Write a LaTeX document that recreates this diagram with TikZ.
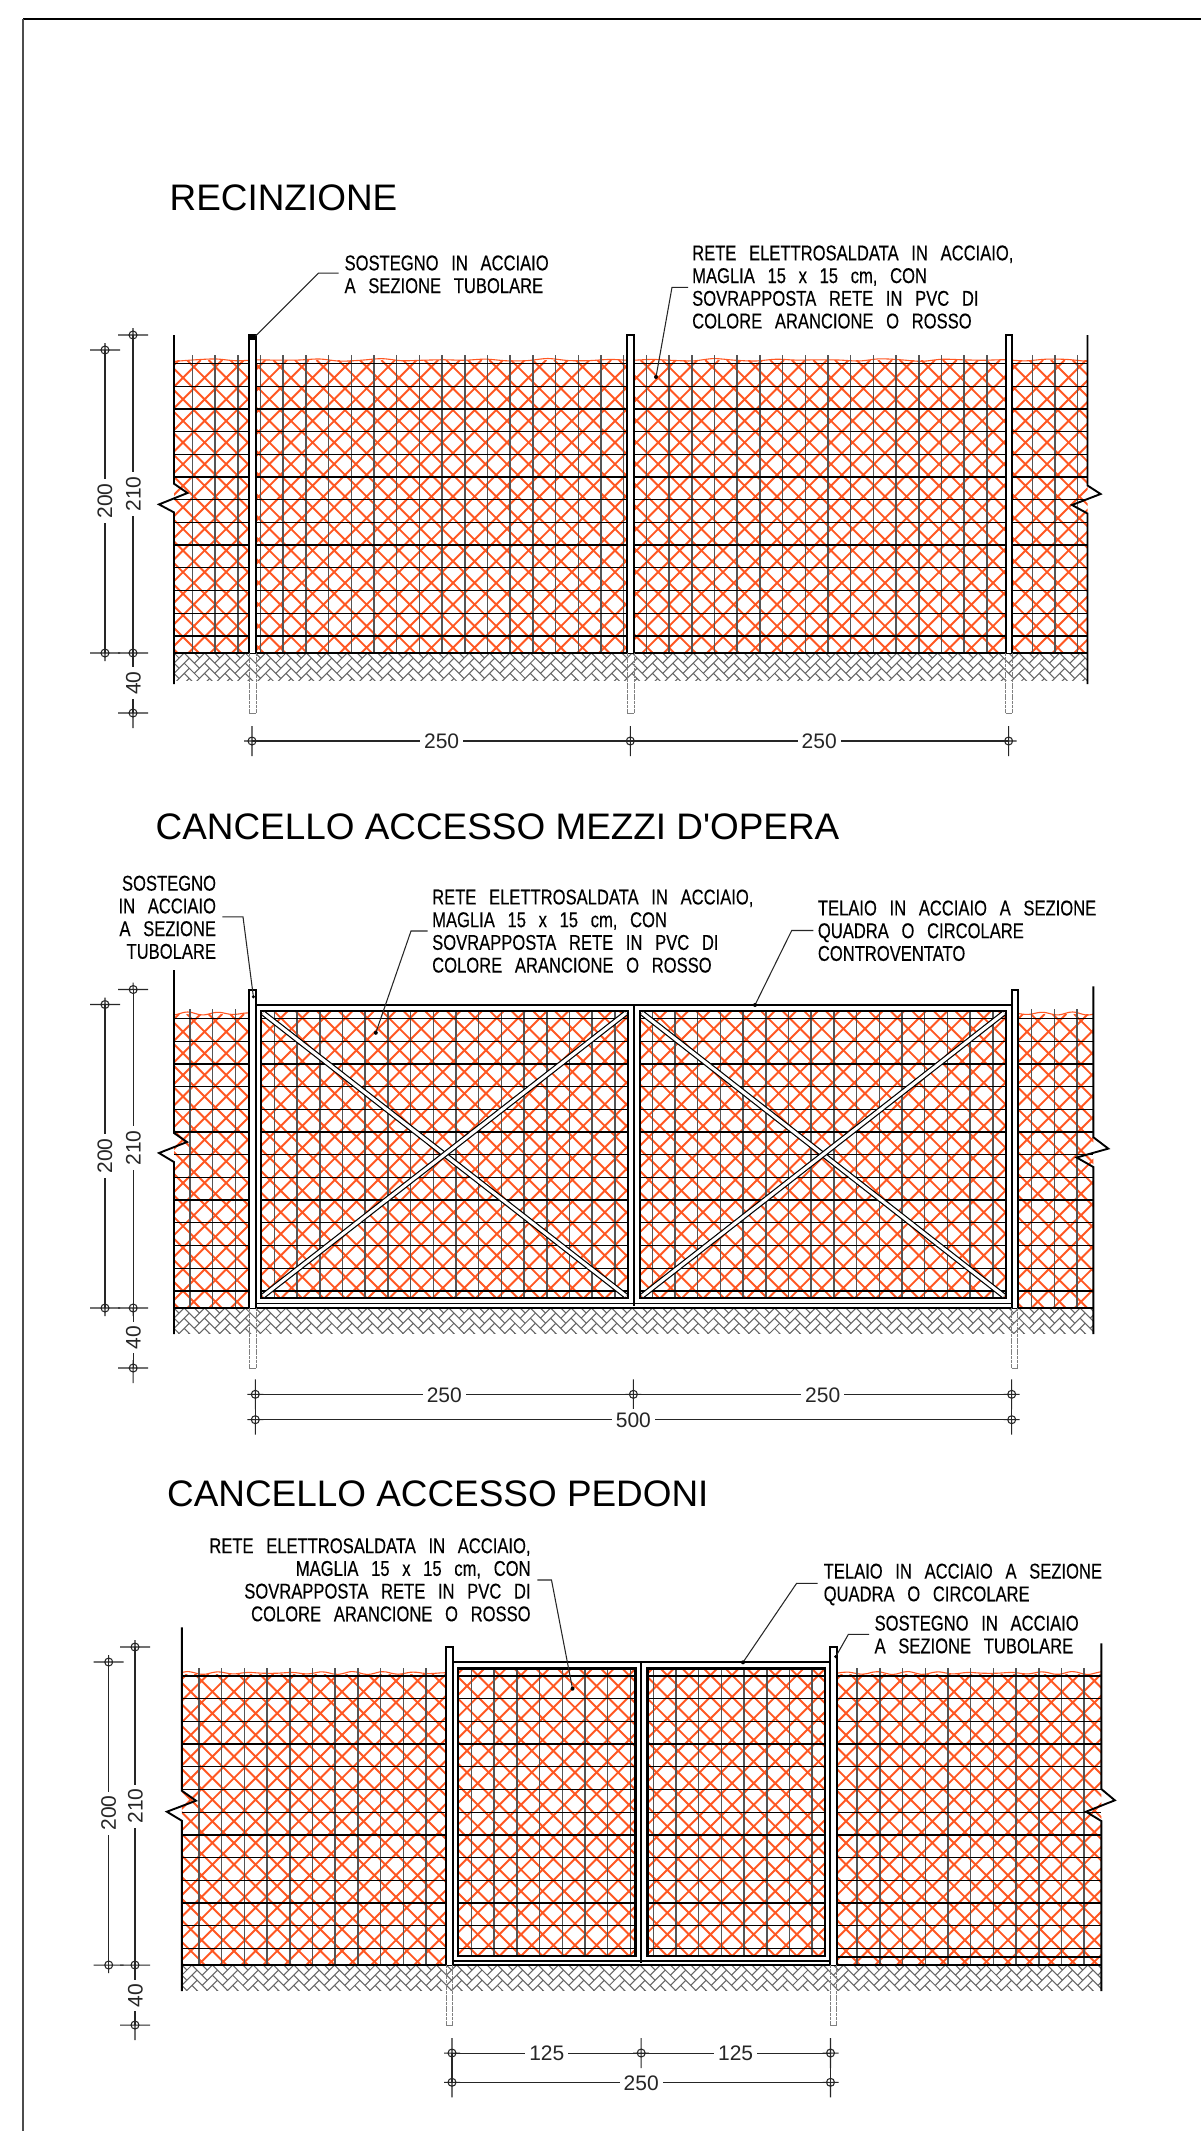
\documentclass[tikz,border=0pt]{standalone}
\usepackage{fontspec}
\setmainfont{Liberation Sans}
\newfontfamily\titlef{Liberation Sans}
\newfontfamily\cadf[FakeStretch=0.775,WordSpace=2.75,FakeBold=0.25]{Liberation Sans}
\newfontfamily\dimf[FakeStretch=1.0]{Liberation Sans}
\definecolor{net}{HTML}{FF5722}
\definecolor{wirev}{HTML}{555555}
\tikzset{
  orangeline/.style={net,line width=1.9pt},
  wave/.style={net,line width=1.1pt},
  wireh/.style={black,line width=1.25pt},
  wirevs/.style={wirev,line width=1.5pt},
  herring/.style={black!60,line width=1.05pt},
  edgeline/.style={black,line width=1.9pt},
  groundline/.style={black,line width=2.4pt},
  tube/.style={black,fill=white,line width=2pt},
  gateline/.style={black,line width=2.5pt},
  thinline/.style={black,line width=1.5pt},
  buried/.style={black!50,line width=0.9pt,dash pattern=on 3pt off 0.7pt},
  buriedend/.style={black!50,line width=0.9pt},
  bracing/.style={black,line width=1.2pt,double=white,double distance=3.2pt},
  dimline/.style={black!85,line width=1.05pt},
  leader/.style={black!85,line width=1.05pt},
  titlelabel/.style={anchor=base west,inner sep=0pt,font=\titlef\fontsize{36.9}{40}\selectfont},
  cadl/.style={anchor=north west,inner sep=0pt,align=left,font=\cadf\fontsize{21.4}{22.7}\selectfont},
  cadr/.style={anchor=north east,inner sep=0pt,align=right,font=\cadf\fontsize{21.4}{22.7}\selectfont},
  dimtext/.style={fill=white,inner sep=4pt,text=black!85,font=\dimf\fontsize{21}{22}\selectfont},
}
\newcommand\orangehatch[4]{%
  \begin{scope}
    \clip (#1,#2) rectangle (#3,#4);
    \pgfmathsetmacro\HH{#4-#2}
    \pgfmathtruncatemacro\NN{(#3-#1+\HH)/21.6+3}
    \pgfmathtruncatemacro\KK{\HH/21.6+2}
    \draw[orangeline] \foreach \n in {0,...,\NN} {
      ({#1+5.1+\n*21.6-21.6},#2) -- ++(-\HH,\HH)
      ({#1-8.7+(\n-\KK)*21.6},#2) -- ++(\HH,\HH)
    };
  \end{scope}}
\newcommand\groundhatch[4]{%
  \begin{scope}
    \clip (#1,#2) rectangle (#3,#4);
    \pgfmathtruncatemacro\NN{(#3-#1)/20.36+2}
    \draw[herring] \foreach \i in {-1,...,\NN} { \foreach \j in {0,...,6} {
      ({#1+\i*20.36},{#2+\j*10.18}) -- ++(15.27,-15.27)
      ({#1+\i*20.36+5.09},{#2+\j*10.18-5.09}) -- ++(-15.27,-15.27)
    }};
  \end{scope}}
\newcommand\hwires[4]{% x0 x1 y0 n
  \draw[wireh] \foreach \k in {0,...,#4} { (#1,{#3+\k*22.7}) -- (#2,{#3+\k*22.7}) };}
\newcommand\vwires[4]{% x0 n ytop ybot
  \draw[wirevs] \foreach \k in {0,...,#2} { ({#1+\k*22.7},#3) -- ({#1+\k*22.7},#4) };}
\newcommand\vtick[4]{% x y extUp extDown
  \draw[dimline] ({#1-15},#2) -- ({#1+15},#2) (#1,{#2-#3}) -- (#1,{#2+#4}) (#1,#2) circle[radius=4pt];}
\newcommand\htick[4]{% x y extUp extDown
  \draw[dimline] ({#1-8},#2) -- ({#1+8},#2) (#1,{#2-#3}) -- (#1,{#2+#4}) (#1,#2) circle[radius=4pt];}
\newcommand\wavetop[3]{%
  \draw[wave] plot[domain=#1:#2,samples=45,smooth] ({\x},{#3+0.9*sin(\x*11)+0.6*sin(\x*13)});}
\newcommand\posttube[5]{% x0 x1 ytop yground ybottom
  \draw[buried] (#1,#4) -- (#1,#5) (#2,#4) -- (#2,#5);
  \draw[buriedend] (#1,#5) -- (#2,#5);
  \draw[tube] (#1,#4) -- (#1,#3) -- (#2,#3) -- (#2,#4);}
\begin{document}
\begin{tikzpicture}[x=1pt,y=-1pt]
\useasboundingbox (0,0) rectangle (1201,2131);
\fill[white] (0,0) rectangle (1201,2131);
% sheet border
\draw[black,line width=1.6pt] (23,19) -- (1201,19);
\draw[black!70,line width=1.2pt] (23,19) -- (23,2131);

%%%%%%%%%%%%%%%% RECINZIONE
\node[titlelabel] (t1) at (169.5,210) {RECINZIONE};
\orangehatch{174}{360}{1087.5}{653}
\wavetop{174}{1087.5}{360}
\vwires{192.4}{39}{355}{653}
\hwires{174}{1087.5}{363.5}{12}
\groundhatch{174}{653}{1087.5}{680}
\draw[edgeline] (174,335) -- (174,483.7) -- (187.5,493) -- (159,504.4) -- (174,512.4) -- (174,684);
\draw[edgeline] (1087.5,335) -- (1087.5,485.5) -- (1100.6,494) -- (1072,505) -- (1087.5,513.5) -- (1087.5,684);
\draw[groundline] (174,653) -- (1087.5,653);
\posttube{249}{256}{335}{653}{713}
\posttube{627}{634}{335}{653}{713}
\posttube{1005.5}{1012}{335}{653}{713}
\fill[black] (250,336) rectangle (255,340);
% labels
\node[cadl] (a1) at (344.4,255.2) {SOSTEGNO IN ACCIAIO\\A SEZIONE TUBOLARE};
\coordinate (a1s) at (338.7,273.2);
\coordinate (a1b) at (318.4,273.2);
\coordinate (a1e) at (255.6,336);
\draw[leader] (a1s) -- (a1b) -- (a1e);
\node[cadl] (a2) at (692,245.2) {RETE ELETTROSALDATA IN ACCIAIO,\\MAGLIA 15 x 15 cm, CON\\SOVRAPPOSTA RETE IN PVC DI\\COLORE ARANCIONE O ROSSO};
\coordinate (a2s) at (688,287.3);
\coordinate (a2b) at (672,287.3);
\coordinate (a2e) at (656,377);
\draw[leader] (a2s) -- (a2b) -- (a2e);
\fill[black] (a2e) circle[radius=2pt];
% dims
\coordinate (d1a) at (105,350); \coordinate (d1b) at (105,653);
\coordinate (d2a) at (133,335); \coordinate (d2b) at (133,653); \coordinate (d2c) at (133,713);
\draw[dimline] (d1a) -- (d1b) (d2a) -- (d2c);
\vtick{105}{350}{7}{0}\vtick{105}{653}{0}{8}
\vtick{133}{335}{7}{0}\vtick{133}{653}{0}{8}\vtick{133}{713}{8}{15}
\node[dimtext,rotate=90] (d1t) at (105,501) {200};
\node[dimtext,rotate=90] (d2t) at (133.5,494) {210};
\node[dimtext,rotate=90] (d3t) at (133.5,683) {40};
\coordinate (h1a) at (252,741); \coordinate (h1b) at (630.3,741); \coordinate (h1c) at (1008.6,741);
\draw[dimline] (h1a) -- (h1c);
\htick{252}{741}{15}{15}\htick{630.3}{741}{15}{15}\htick{1008.6}{741}{15}{15}
\node[dimtext] (h1t) at (441.6,741.5) {250};
\node[dimtext] (h2t) at (819.2,741.5) {250};

%%%%%%%%%%%%%%%% CANCELLO MEZZI
\node[titlelabel] (t2) at (155.5,839) {CANCELLO ACCESSO MEZZI D'OPERA};
\orangehatch{174}{1014}{249}{1308}
\orangehatch{261}{1011}{628}{1298}
\orangehatch{640}{1011}{1006}{1298}
\orangehatch{1018}{1014}{1093.3}{1308}
\wavetop{174}{249}{1013.5}
\wavetop{1018}{1093.3}{1013.5}
\vwires{190}{2}{1009}{1308}
\vwires{274.4}{15}{1011}{1298}
\vwires{652.3}{15}{1011}{1298}
\vwires{1031.7}{2}{1009}{1308}
\hwires{174}{249}{1018.5}{12}
\hwires{261}{628}{1018.5}{12}
\hwires{640}{1006}{1018.5}{12}
\hwires{1018}{1093.3}{1018.5}{12}
\groundhatch{174}{1308}{1093.3}{1333.5}
\draw[edgeline] (174,970) -- (174,1133) -- (187,1142) -- (159,1153) -- (174,1162) -- (174,1334);
\draw[edgeline] (1093.3,986.4) -- (1093.3,1137.2) -- (1108.3,1148.6) -- (1076.7,1157.5) -- (1093.3,1167) -- (1093.3,1334);
\draw[groundline] (174,1308) -- (1093.3,1308);
\posttube{249}{256}{990}{1308}{1368}
\posttube{1011.7}{1017.7}{990}{1308}{1368}
% frame
\draw[thinline,line width=2.2pt] (256,1004.7) -- (1011.7,1004.7);
\draw[thinline] (256,1303.5) -- (1011.7,1303.5);
\draw[thinline] (633.8,1004.7) -- (633.8,1306);
\draw[gateline] (261,1010.8) rectangle (628,1298);
\draw[gateline] (640,1010.8) rectangle (1006,1298);
\draw[bracing] (263,1013) -- (626,1296);
\draw[bracing] (626,1013) -- (263,1296);
\draw[bracing] (642,1013) -- (1004,1296);
\draw[bracing] (1004,1013) -- (642,1296);
% labels
\node[cadr] (b1) at (216.2,875.5) {SOSTEGNO\\IN ACCIAIO\\A SEZIONE\\TUBOLARE};
\coordinate (b1s) at (222.4,916.8);
\coordinate (b1b) at (243,916.8);
\coordinate (b1e) at (253.4,996.8);
\draw[leader] (b1s) -- (b1b) -- (b1e);
\fill[black] (b1e) circle[radius=1.7pt];
\node[cadl] (b2) at (432,889.3) {RETE ELETTROSALDATA IN ACCIAIO,\\MAGLIA 15 x 15 cm, CON\\SOVRAPPOSTA RETE IN PVC DI\\COLORE ARANCIONE O ROSSO};
\coordinate (b2s) at (427.5,931);
\coordinate (b2b) at (411,931);
\coordinate (b2e) at (375.8,1032.8);
\draw[leader] (b2s) -- (b2b) -- (b2e);
\fill[black] (b2e) circle[radius=2pt];
\node[cadl] (b3) at (817.7,900.3) {TELAIO IN ACCIAIO A SEZIONE\\QUADRA O CIRCOLARE\\CONTROVENTATO};
\coordinate (b3s) at (813.3,930.5);
\coordinate (b3b) at (791.7,930.5);
\coordinate (b3e) at (755,1005);
\draw[leader] (b3s) -- (b3b) -- (b3e);
\fill[black] (b3e) circle[radius=2pt];
% dims
\coordinate (e1a) at (105,1004.5); \coordinate (e1b) at (105,1308);
\coordinate (e2a) at (133.2,989.5); \coordinate (e2c) at (133.2,1368);
\draw[dimline] (e1a) -- (e1b) (e2a) -- (e2c);
\vtick{105}{1004.5}{7}{0}\vtick{105}{1308}{0}{8}
\vtick{133.2}{989.5}{7}{0}\vtick{133.2}{1308}{0}{8}\vtick{133.2}{1368}{8}{15}
\node[dimtext,rotate=90] (e1t) at (105,1156) {200};
\node[dimtext,rotate=90] (e2t) at (133.5,1148) {210};
\node[dimtext,rotate=90] (e3t) at (133.5,1337.7) {40};
\coordinate (f1a) at (255.3,1394.3); \coordinate (f1c) at (1011.7,1394.3);
\coordinate (f2a) at (255.3,1419.7); \coordinate (f2c) at (1011.7,1419.7);
\draw[dimline] (f1a) -- (f1c) (f2a) -- (f2c);
\htick{255.3}{1394.3}{15}{15}\htick{633.4}{1394.3}{15}{15}\htick{1011.7}{1394.3}{15}{15}
\htick{255.3}{1419.7}{0}{15}\htick{1011.7}{1419.7}{0}{15}
\draw[dimline] (255.3,1394.3) -- (255.3,1419.7) (1011.7,1394.3) -- (1011.7,1419.7);
\node[dimtext] (f1t) at (444.3,1394.8) {250};
\node[dimtext] (f2t) at (822.7,1394.8) {250};
\node[dimtext] (f3t) at (633.4,1420.2) {500};

%%%%%%%%%%%%%%%% CANCELLO PEDONI
\node[titlelabel] (t3) at (167,1506) {CANCELLO ACCESSO PEDONI};
\orangehatch{181.8}{1674}{446.2}{1965}
\orangehatch{458}{1668.3}{635.7}{1956}
\orangehatch{647.5}{1668.3}{825}{1956}
\orangehatch{837}{1674}{1101.3}{1965}
\wavetop{181.8}{446.2}{1673}
\wavetop{837}{1101.3}{1673}
\vwires{199}{10}{1668}{1965}
\vwires{471.5}{7}{1668.3}{1956}
\vwires{653.3}{7}{1668.3}{1956}
\vwires{857.2}{10}{1668}{1965}
\hwires{181.8}{446.2}{1676}{12}
\hwires{458}{635.7}{1676}{12}
\hwires{647.5}{825}{1676}{12}
\hwires{837}{1101.3}{1676}{12}
\draw[wireh] (837,1957) -- (1101.3,1957);
\groundhatch{181.8}{1965}{1101.3}{1990.7}
\draw[edgeline] (181.8,1627.3) -- (181.8,1790.7) -- (196,1800.7) -- (166.9,1811.7) -- (181.8,1820.7) -- (181.8,1991);
\draw[edgeline] (1101.3,1643.3) -- (1101.3,1789) -- (1114.8,1800.3) -- (1086,1811.7) -- (1101.3,1821) -- (1101.3,1991);
\draw[groundline] (181.8,1965) -- (1101.3,1965);
\posttube{446.2}{452.8}{1647}{1965}{2025.3}
\posttube{830.4}{836.9}{1647}{1965}{2025.3}
\draw[thinline,line width=2pt] (452.8,1662.3) -- (830.4,1662.3);
\draw[thinline,line width=2pt] (452.8,1961.3) -- (830.4,1961.3);
\draw[thinline] (641,1662.3) -- (641,1963);
\draw[gateline] (458,1668.3) rectangle (635.7,1956);
\draw[gateline] (647.5,1668.3) rectangle (825,1956);
% labels
\node[cadr] (c1) at (530.8,1538) {RETE ELETTROSALDATA IN ACCIAIO,\\MAGLIA 15 x 15 cm, CON\\SOVRAPPOSTA RETE IN PVC DI\\COLORE ARANCIONE O ROSSO};
\coordinate (c1s) at (537.3,1580);
\coordinate (c1b) at (551.5,1580);
\coordinate (c1e) at (572.5,1688.7);
\draw[leader] (c1s) -- (c1b) -- (c1e);
\fill[black] (c1e) circle[radius=2pt];
\node[cadl] (c2) at (823.5,1563.4) {TELAIO IN ACCIAIO A SEZIONE\\QUADRA O CIRCOLARE};
\coordinate (c2s) at (817.7,1583.3);
\coordinate (c2b) at (796.6,1583.3);
\coordinate (c2e) at (743,1662.3);
\draw[leader] (c2s) -- (c2b) -- (c2e);
\fill[black] (c2e) circle[radius=2pt];
\node[cadl] (c3) at (874.4,1615.4) {SOSTEGNO IN ACCIAIO\\A SEZIONE TUBOLARE};
\coordinate (c3s) at (869,1634.3);
\coordinate (c3b) at (848.4,1634.3);
\coordinate (c3e) at (835.7,1656.7);
\draw[leader] (c3s) -- (c3b) -- (c3e);
\fill[black] (c3e) circle[radius=1.7pt];
% dims
\coordinate (g1a) at (108.7,1662); \coordinate (g1b) at (108.7,1965);
\coordinate (g2a) at (135,1647); \coordinate (g2c) at (135,2025);
\draw[dimline] (g1a) -- (g1b) (g2a) -- (g2c);
\vtick{108.7}{1662}{7}{0}\vtick{108.7}{1965}{0}{8}
\vtick{135}{1647}{7}{0}\vtick{135}{1965}{0}{8}\vtick{135}{2025}{8}{15}
\node[dimtext,rotate=90] (g1t) at (108.7,1813) {200};
\node[dimtext,rotate=90] (g2t) at (135.5,1806) {210};
\node[dimtext,rotate=90] (g3t) at (135.5,1995.7) {40};
\coordinate (k1a) at (452,2053); \coordinate (k1c) at (830.5,2053);
\coordinate (k2a) at (452,2082.3); \coordinate (k2c) at (830.5,2082.3);
\draw[dimline] (k1a) -- (k1c) (k2a) -- (k2c);
\htick{452}{2053}{15}{15}\htick{641.2}{2053}{15}{15}\htick{830.5}{2053}{15}{15}
\htick{452}{2082.3}{0}{15}\htick{830.5}{2082.3}{0}{15}
\draw[dimline] (452,2053) -- (452,2082.3) (830.5,2053) -- (830.5,2082.3);
\node[dimtext] (k1t) at (546.8,2053.5) {125};
\node[dimtext] (k2t) at (735.6,2053.5) {125};
\node[dimtext] (k3t) at (641.2,2082.8) {250};
\end{tikzpicture}
\end{document}
